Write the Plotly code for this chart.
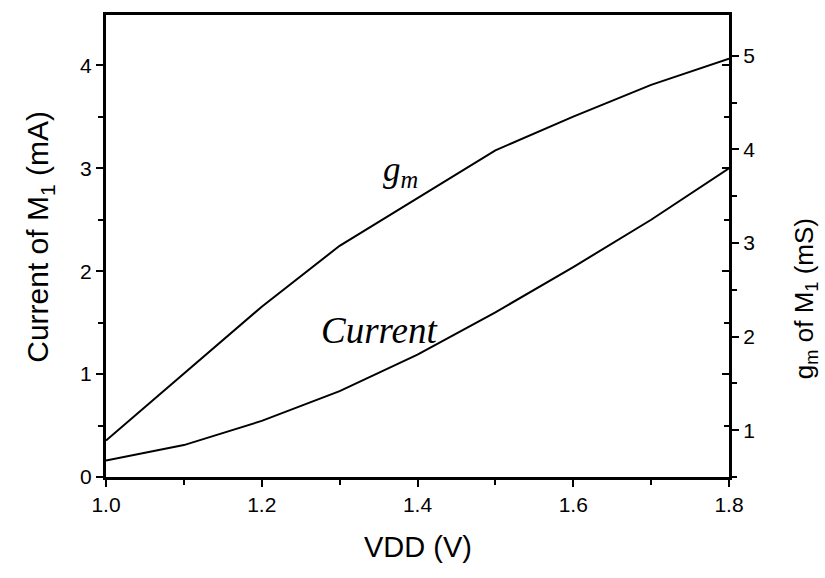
import plotly.graph_objects as go

vdd = [1.0, 1.1, 1.2, 1.3, 1.4, 1.5, 1.6, 1.7, 1.8]
current_mA = [0.16, 0.31, 0.545, 0.835, 1.19, 1.60, 2.04, 2.50, 3.00]
gm_mS = [0.89, 1.61, 2.32, 2.97, 3.48, 3.99, 4.35, 4.69, 4.97]

x_ticks = [1.0, 1.2, 1.4, 1.6, 1.8]
x_ticklabels = ["1.0", "1.2", "1.4", "1.6", "1.8"]

FONT = "Liberation Sans"
SERIF = "Liberation Serif"
Y1_RANGE = [0, 4.49]
Y2_RANGE = [0.5, 5.436]

fig = go.Figure()
fig.add_trace(go.Scatter(x=vdd, y=current_mA, mode="lines",
                         line=dict(color="black", width=2), yaxis="y", showlegend=False))
fig.add_trace(go.Scatter(x=vdd, y=gm_mS, mode="lines",
                         line=dict(color="black", width=2), yaxis="y2", showlegend=False))

axis_common = dict(showgrid=False, zeroline=False, linecolor="black", linewidth=3,
                   tickcolor="black", tickwidth=2,
                   tickfont=dict(family=FONT, size=21, color="black"))

fig.update_layout(
    width=825, height=578,
    margin=dict(l=106, r=96, t=13, b=101),
    paper_bgcolor="white", plot_bgcolor="white",
    font=dict(family=FONT, size=21, color="black"),
    xaxis=dict(range=[1.0, 1.8], tickvals=x_ticks, ticktext=x_ticklabels,
               ticks="outside", ticklen=7, mirror=True, showline=True,
               minor=dict(dtick=0.1, tick0=1.0, ticks="outside", ticklen=5,
                          tickwidth=2, tickcolor="black"),
               **axis_common),
    yaxis=dict(range=Y1_RANGE, dtick=1, tick0=0, ticks="outside", ticklen=7,
               showline=True,
               minor=dict(dtick=0.5, tick0=0, ticks="outside", ticklen=5,
                          tickwidth=2, tickcolor="black"),
               **axis_common),
    yaxis2=dict(range=Y2_RANGE, dtick=1, tick0=0, ticks="outside", ticklen=7,
                overlaying="y", side="right", anchor="x", showline=True,
                minor=dict(dtick=0.5, tick0=0, ticks="outside", ticklen=5,
                           tickwidth=2, tickcolor="black"),
                **axis_common),
    yaxis3=dict(range=Y1_RANGE, dtick=1, tick0=0, ticks="inside", ticklen=7,
                overlaying="y", side="right", anchor="x", showline=False,
                showticklabels=False, showgrid=False, zeroline=False,
                tickcolor="black", tickwidth=2,
                minor=dict(dtick=0.5, tick0=0, ticks="inside", ticklen=5,
                           tickwidth=2, tickcolor="black")),
)
fig.add_trace(go.Scatter(x=[None], y=[None], yaxis="y3", showlegend=False,
                         hoverinfo="skip"))

fig.add_annotation(text="Current of M<sub>1</sub> (mA)", xref="paper", yref="paper",
                   x=0, y=0.52, xshift=-66, textangle=-90, showarrow=False,
                   xanchor="center", yanchor="middle",
                   font=dict(family=FONT, size=30, color="black"))
fig.add_annotation(text="g<sub>m</sub> of M<sub>1</sub> (mS)", xref="paper", yref="paper",
                   x=1, y=0.385, xshift=76, textangle=-90, showarrow=False,
                   xanchor="center", yanchor="middle",
                   font=dict(family=FONT, size=26, color="black"))
fig.add_annotation(text="VDD (V)", xref="paper", yref="paper",
                   x=0.5, y=0, yshift=-70, showarrow=False,
                   xanchor="center", yanchor="middle",
                   font=dict(family=FONT, size=29, color="black"))

fig.add_annotation(text="<i>Current</i>", xref="x", yref="y", x=1.352, y=1.42,
                   showarrow=False, xanchor="center", yanchor="middle",
                   font=dict(family=SERIF, size=37, color="black"))
fig.add_annotation(text="<i>g<sub>m</sub></i>", xref="x", yref="y", x=1.378, y=2.97,
                   showarrow=False, xanchor="center", yanchor="middle",
                   font=dict(family=SERIF, size=35, color="black"))

fig.write_html("out.html")
